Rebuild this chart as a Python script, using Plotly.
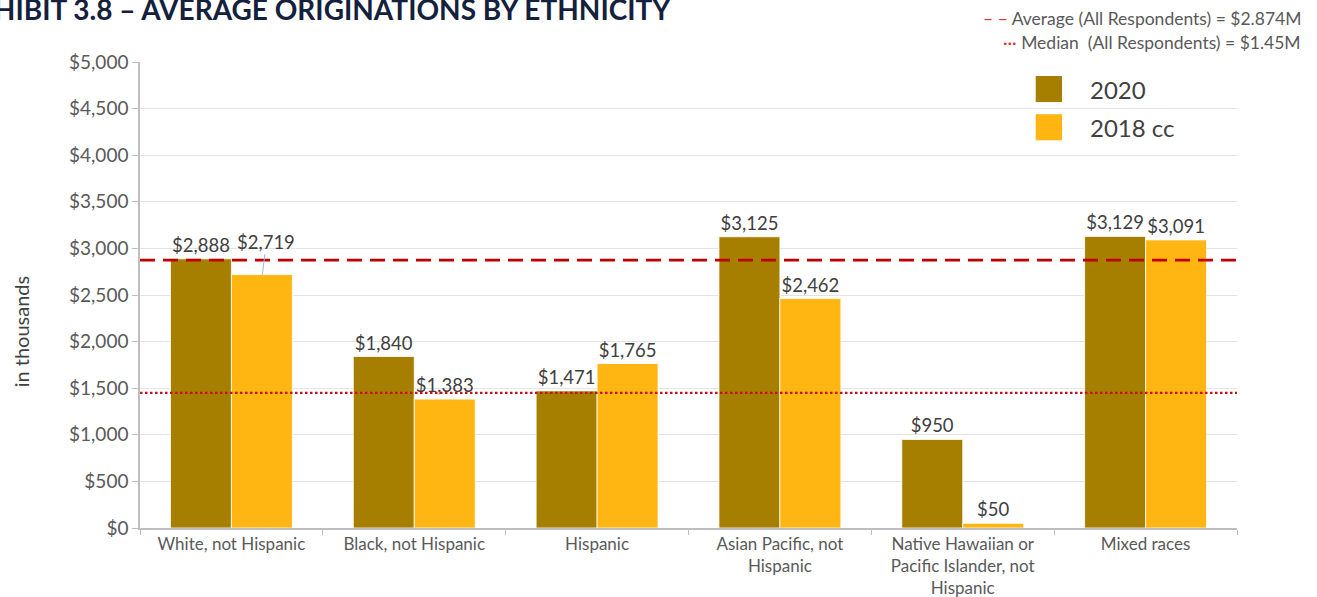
import plotly.graph_objects as go

categories = [
    "White, not Hispanic",
    "Black, not Hispanic",
    "Hispanic",
    "Asian Pacific, not<br>Hispanic",
    "Native Hawaiian or<br>Pacific Islander, not<br>Hispanic",
    "Mixed races",
]
series_names = ["2020", "2018 cc"]
values_2020 = [2888, 1840, 1471, 3125, 950, 3129]
values_2018 = [2719, 1383, 1765, 2462, 50, 3091]
average_all = 2874
median_all = 1450
y_ticks = [0, 500, 1000, 1500, 2000, 2500, 3000, 3500, 4000, 4500, 5000]

C2020 = "#A67F00"
C2018 = "#FFB612"
LINE_RED = "#C00000"
FONT = "Lato, 'Open Sans', sans-serif"
TXT = "#404040"
AX = "#595959"

fig = go.Figure()

def fmt(v):
    return "${:,}".format(v)

fig.add_trace(go.Bar(
    x=categories, y=values_2020, name=series_names[0],
    marker=dict(color=C2020, line=dict(color="white", width=0.8)),
    text=[fmt(v) for v in values_2020], textposition="outside",
    textfont=dict(size=18.5, color=TXT, family=FONT), cliponaxis=False,
))
# first 2018 label is lifted with a leader line in the reference
text_2018 = [fmt(v) for v in values_2018]
text_2018[0] = ""
fig.add_trace(go.Bar(
    x=categories, y=values_2018, name=series_names[1],
    marker=dict(color=C2018, line=dict(color="white", width=0.8)),
    text=text_2018, textposition="outside",
    textfont=dict(size=18.5, color=TXT, family=FONT), cliponaxis=False,
))

fig.add_annotation(
    x=categories[0], y=values_2018[0], xshift=31,
    ax=4, ay=-33, showarrow=True, arrowhead=0, arrowwidth=1,
    arrowcolor="#9DBCE0", standoff=0,
    text=fmt(values_2018[0]),
    font=dict(size=18.5, color=TXT, family=FONT),
)

# reference lines
fig.add_shape(type="line", xref="paper", yref="y", x0=0, x1=1,
              y0=average_all, y1=average_all,
              line=dict(color=LINE_RED, width=2.8, dash="15px,8px"), layer="above")
fig.add_shape(type="line", xref="paper", yref="y", x0=0, x1=1,
              y0=median_all, y1=median_all,
              line=dict(color="#C8101A", width=2.4, dash="2.5px,2.5px"), layer="above")

# reference line notes
fig.add_annotation(
    xref="paper", yref="paper", x=1.06, y=1.094, xanchor="right", yanchor="middle",
    text="<span style='color:#D33'>– –</span> Average (All Respondents) = $2.874M",
    showarrow=False, font=dict(size=17.5, color=AX, family=FONT),
)
fig.add_annotation(
    xref="paper", yref="paper", x=1.06, y=1.041, xanchor="right", yanchor="middle",
    text="<span style='color:#D33'>···</span> Median  (All Respondents) = $1.45M",
    showarrow=False, font=dict(size=17.5, color=AX, family=FONT),
)

# custom legend
for i, (nm, col) in enumerate(zip(series_names, [C2020, C2018])):
    yc = 0.942 - i * 0.082
    fig.add_shape(type="rect", xref="paper", yref="paper",
                  x0=0.8165, x1=0.8405, y0=yc - 0.028, y1=yc + 0.028,
                  fillcolor=col, line=dict(width=0), layer="above")
    fig.add_annotation(xref="paper", yref="paper", x=0.864, y=yc, xanchor="left",
                       yanchor="middle", text=nm, showarrow=False,
                       font=dict(size=24, color=TXT, family=FONT))

# title (partly cut off at the left edge, as in the reference)
fig.add_annotation(
    xref="paper", yref="paper", x=0.486, y=1.113, xanchor="right", yanchor="middle",
    text="<b>EXHIBIT 3.8 – AVERAGE ORIGINATIONS BY ETHNICITY</b>",
    showarrow=False, font=dict(size=28, color="#14213D", family=FONT, weight=900),
)

# y axis title
fig.add_annotation(
    xref="paper", yref="paper", x=-0.109, y=0.423, textangle=-90,
    xanchor="center", yanchor="middle",
    text="in thousands", showarrow=False,
    font=dict(size=20, color=TXT, family=FONT),
)

fig.update_layout(
    width=1317, height=597,
    margin=dict(l=140, r=80, t=62, b=69),
    paper_bgcolor="white", plot_bgcolor="white",
    barmode="group", bargap=0.333, bargroupgap=0,
    showlegend=False,
    font=dict(family=FONT, color=AX),
    xaxis=dict(
        showline=True, linecolor="#BFBFBF", linewidth=1.5,
        ticks="outside", tickson="boundaries", ticklen=5, tickcolor="#BFBFBF",
        tickfont=dict(size=17, color=AX, family=FONT),
        showgrid=False, automargin=False,
    ),
    yaxis=dict(
        range=[0, 5000], tickvals=y_ticks,
        ticktext=["${:,}".format(v) for v in y_ticks],
        showline=True, linecolor="#BFBFBF", linewidth=1.5,
        ticks="outside", ticklen=6, tickcolor="#BFBFBF",
        gridcolor="#E3E3E3", gridwidth=1.2, zeroline=False,
        tickfont=dict(size=19, color=AX, family=FONT), automargin=False,
    ),
)

fig.write_html("out.html", post_script="document.body.style.margin='0';",
               config={"displayModeBar": False})
